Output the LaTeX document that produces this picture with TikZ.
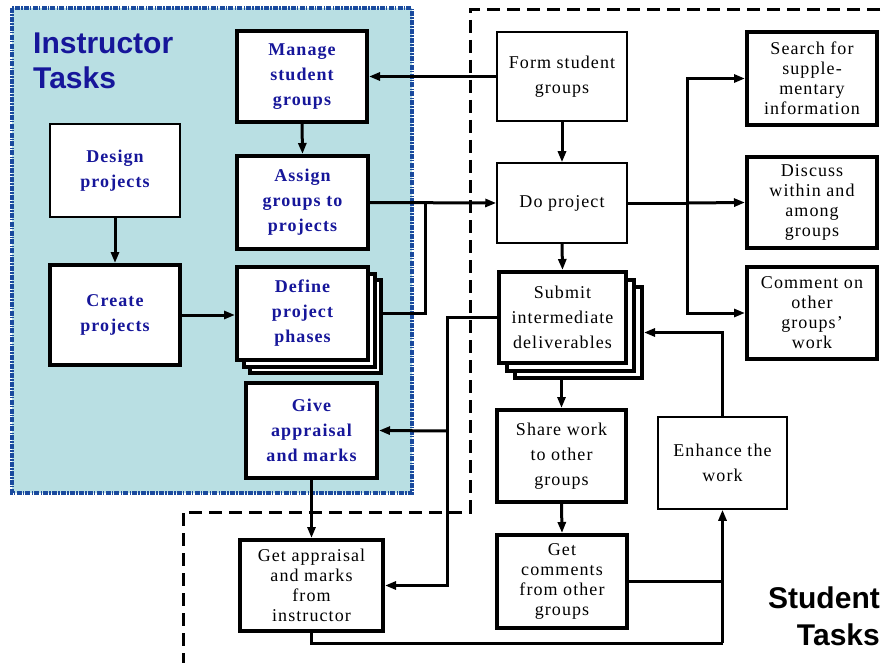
\documentclass[tikz,border=0pt]{standalone}
\usepackage{fontspec}
\setmainfont{Liberation Serif}[LetterSpace=6]
\newfontfamily\titlefont{Liberation Sans}
\usepackage{tikz}
\usetikzlibrary{arrows.meta}

\definecolor{instrfill}{HTML}{B9DFE3}
\definecolor{instrline}{HTML}{1A4A9E}
\definecolor{instrtext}{HTML}{16169A}

\tikzset{
  box/.style={draw, fill=white, line width=1.5pt, align=center, inner sep=2pt,
    font=\fontsize{18}{25}\selectfont},
  boxthick/.style={box, line width=4pt},
  tight/.style={font=\fontsize{18}{20}\selectfont},
  instr/.style={text=instrtext, font=\fontsize{18}{25}\selectfont\bfseries},
  line/.style={line width=3pt},
  arr/.style={line, -{Triangle[length=11pt,width=8pt]}},
}

\begin{document}
\begin{tikzpicture}[x=1pt,y=-1pt]
\useasboundingbox (0,0) rectangle (885,663);

% the two task areas
\draw[instrline, fill=instrfill, line width=3.5pt,
  dash pattern=on 5pt off 1.2pt on 1.5pt off 1.2pt] (12,8) rectangle (412,493);
\draw[line width=3pt, dash pattern=on 13pt off 7pt]
  (900,10) -- (470,10) -- (470,512) -- (183,512) -- (183,680);

\node[anchor=north west, inner sep=0, align=left, text=instrtext,
  font=\titlefont\fontsize{30}{35}\selectfont\bfseries] (instrlbl) at (33,33) {Instructor\\Tasks};
\node[anchor=north east, inner sep=0, align=right,
  font=\titlefont\fontsize{30}{37}\selectfont\bfseries] (studlbl) at (880,587) {Student\\Tasks};

% instructor boxes
\node[boxthick, instr, minimum width=130, minimum height=91] (manage) at (302,76.5) {Manage\\student\\groups};
\node[box, instr, minimum width=130, minimum height=93] (design) at (115,170.5) {Design\\projects};
\node[boxthick, instr, minimum width=131, minimum height=93] (assign) at (302.5,202.5) {Assign\\groups to\\projects};
\node[boxthick, instr, minimum width=130, minimum height=100] (create) at (115,315) {Create\\projects};
\node[boxthick, minimum width=131, minimum height=93] (defineC) at (315.5,326.5) {};
\node[boxthick, minimum width=131, minimum height=93] (defineB) at (309,320) {};
\node[boxthick, instr, minimum width=131, minimum height=93] (define) at (302.5,313.5) {Define\\project\\phases};
\node[boxthick, instr, minimum width=131, minimum height=95] (give) at (311.5,430.5) {Give\\appraisal\\and marks};

% student boxes
\node[box, minimum width=130, minimum height=89] (form) at (562,76.5) {Form student\\groups};
\node[box, minimum width=130, minimum height=80] (doproj) at (562,203) {Do project};
\node[boxthick, minimum width=127, minimum height=91] (submitC) at (578.5,332.5) {};
\node[boxthick, minimum width=127, minimum height=91] (submitB) at (570.5,325) {};
\node[boxthick, minimum width=127, minimum height=91] (submit) at (562.5,317.5) {Submit\\intermediate\\deliverables};
\node[boxthick, minimum width=129, minimum height=92] (share) at (561.5,456) {Share work\\to other\\groups};
\node[boxthick, tight, minimum width=130, minimum height=93] (getcom) at (562,581.5) {Get\\comments\\from other\\groups};
\node[boxthick, tight, minimum width=143, minimum height=91] (getapp) at (311.5,585.5) {Get appraisal\\and marks\\from\\instructor};
\node[boxthick, tight, minimum width=130, minimum height=93] (search) at (812,78.5) {Search for\\supple-\\mentary\\information};
\node[boxthick, tight, minimum width=130, minimum height=91] (discuss) at (812,202.5) {Discuss\\within and\\among\\groups};
\node[boxthick, tight, minimum width=130, minimum height=92] (comment) at (812,313) {Comment on\\other\\groups’\\work};
\node[box, minimum width=129, minimum height=92] (enhance) at (722.5,463) {Enhance the\\work};

% connectors
\coordinate (merge) at (425,203);
\coordinate (fork) at (687,203);
\coordinate (split) at (447,431);
\coordinate (loop) at (722.5,643);

\draw[arr] (form.west) -- (manage.east);
\draw[arr] (manage.south) -- (assign.north);
\draw[arr] (design.south) -- (create.north);
\draw[arr] (create.east) -- (create.east -| define.west);
\draw[arr] (assign.east) -- (doproj.west);
\draw[line] (defineC.east |- define.east) -| (merge);
\draw[arr] (form.south) -- (doproj.north);
\draw[arr] (doproj.south) -- (submit.north);
\draw[line] (doproj.east) -- (fork);
\draw[arr] (fork) |- (search.west);
\draw[arr] (fork) -- (discuss.west);
\draw[arr] (fork) |- (comment.west);
\draw[arr] (submit.west) -| (split) |- (getapp.east);
\draw[arr] (split) -- (give.east);
\draw[arr] (give.south) -- (getapp.north);
\draw[arr] (share.north |- submitC.south) -- (share.north);
\draw[arr] (share.south) -- (getcom.north);
\draw[line] (getcom.east) -- (getcom.east -| loop);
\draw[line] (getapp.south) |- (loop);
\draw[arr] (loop) -- (enhance.south);
\draw[arr] (enhance.north) |- (submitC.east);
\end{tikzpicture}
\end{document}
